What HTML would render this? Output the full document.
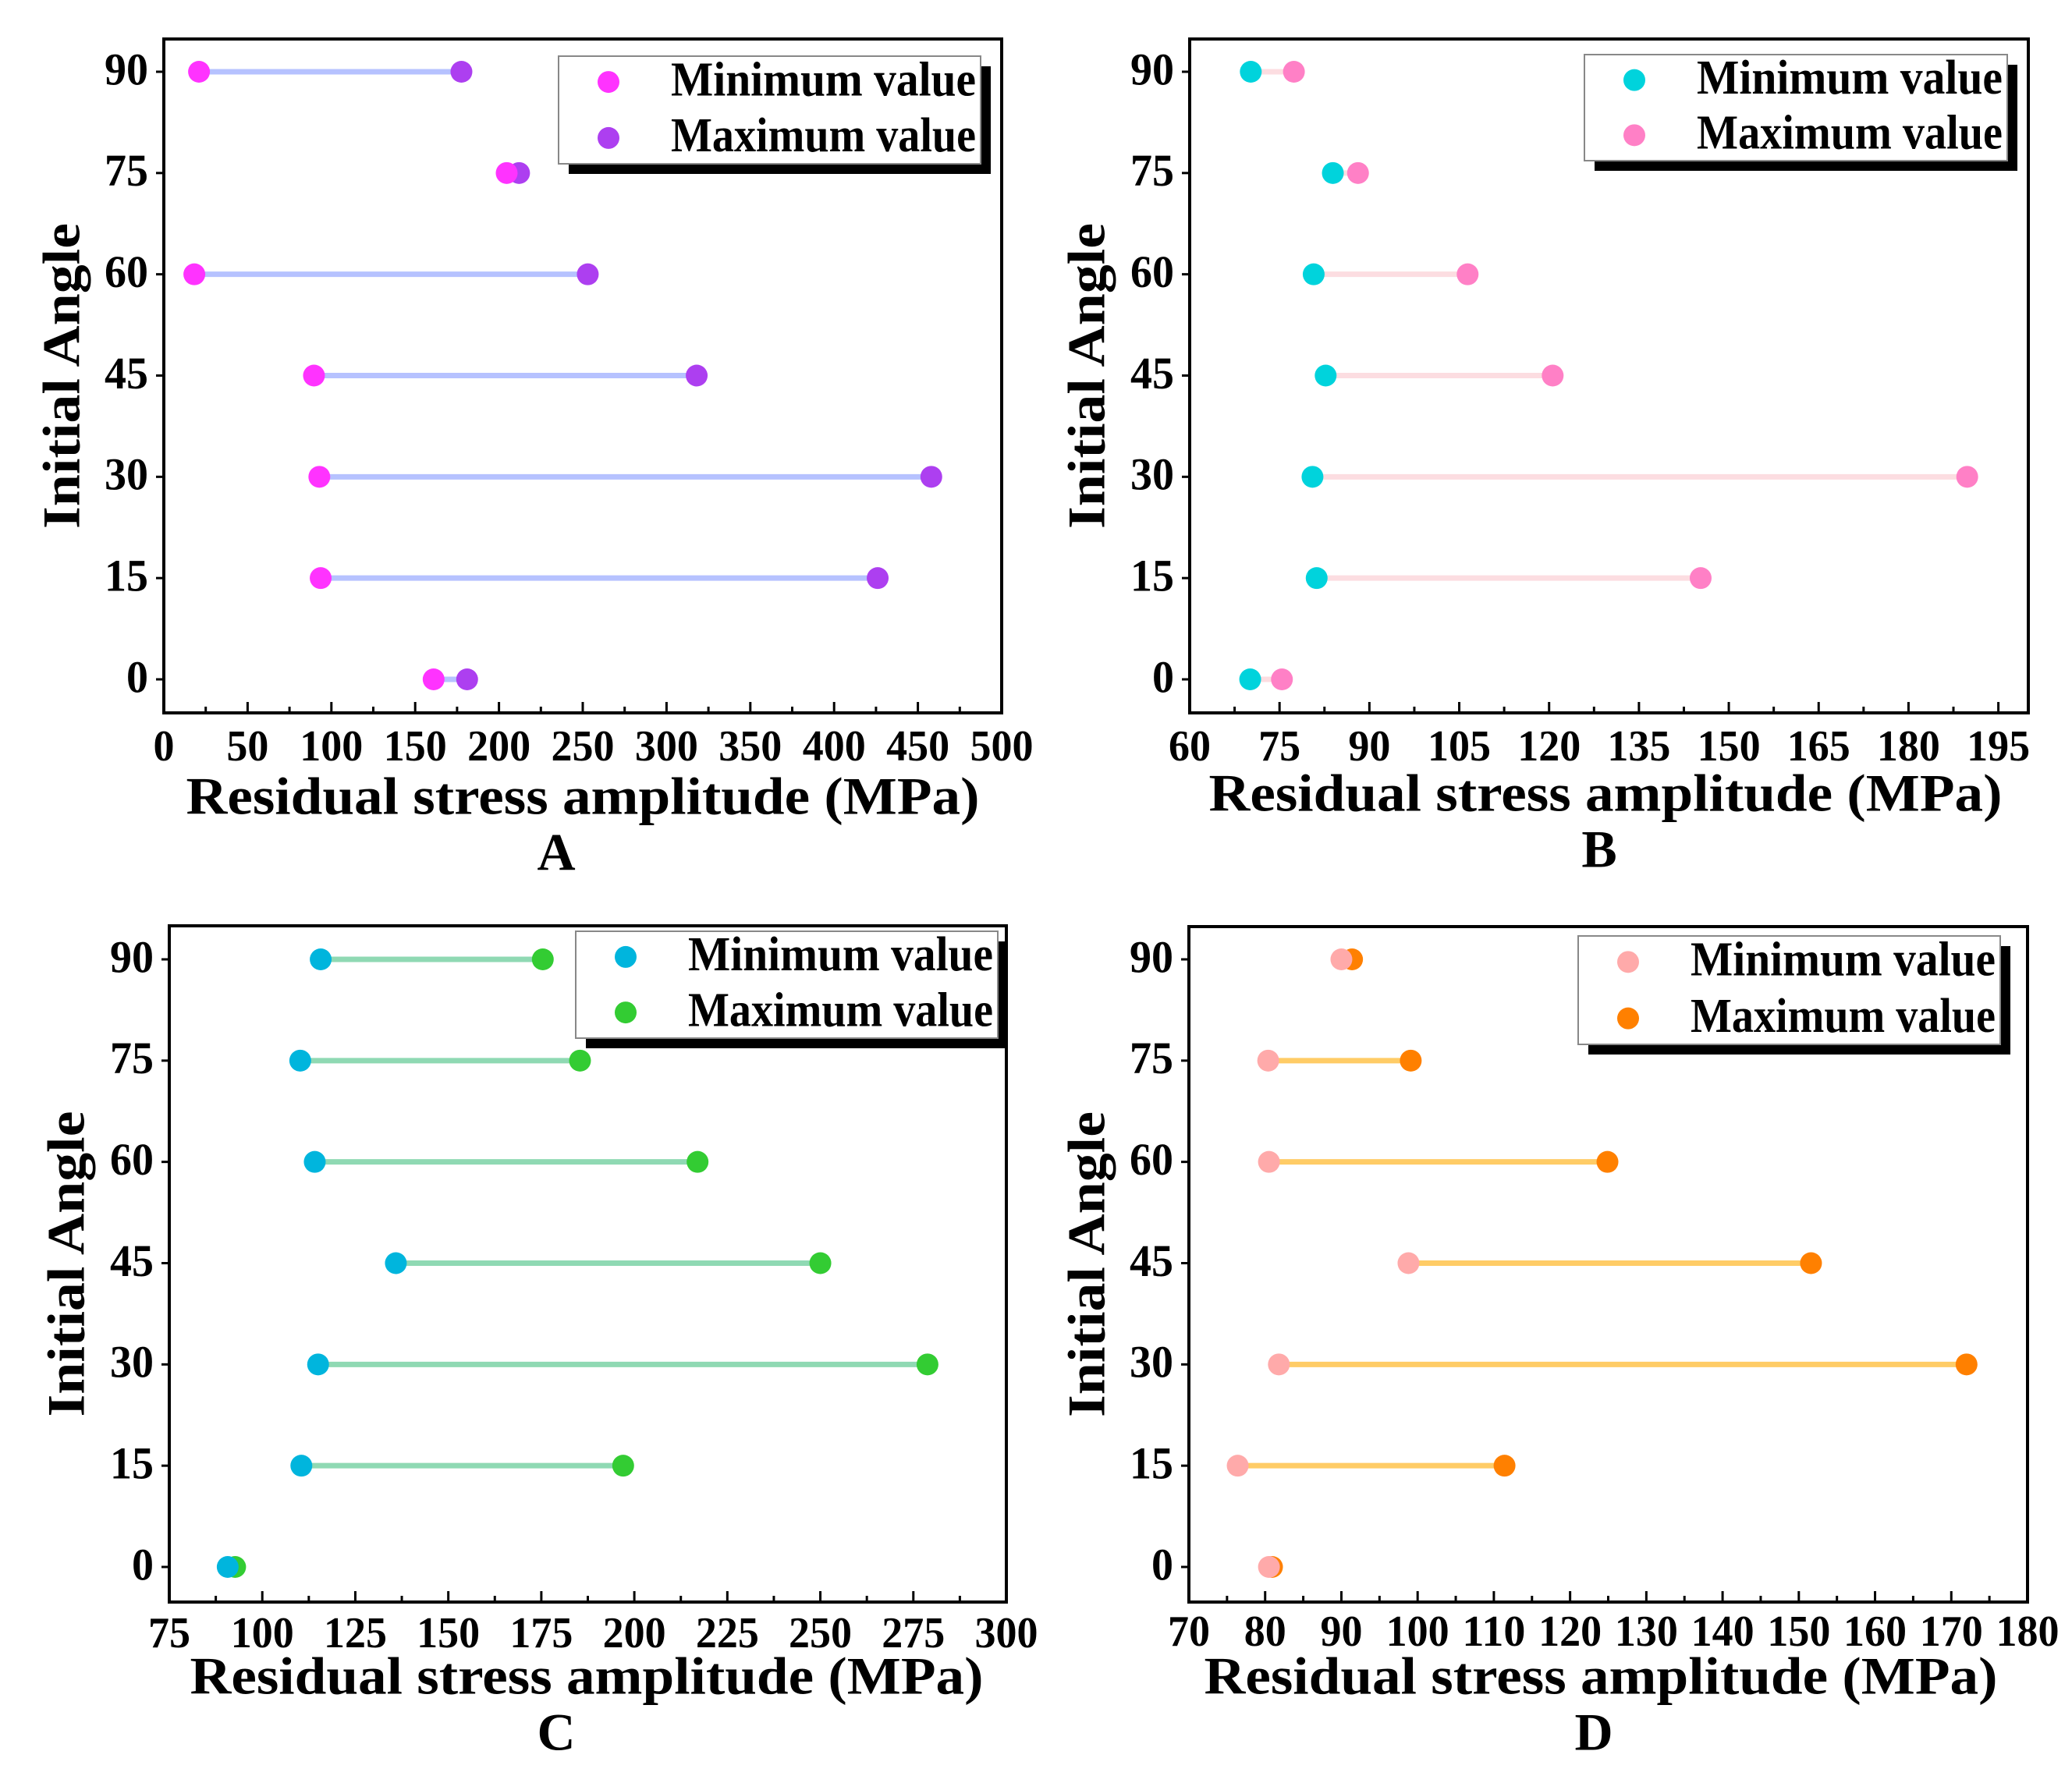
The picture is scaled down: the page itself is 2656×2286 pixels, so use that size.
<!DOCTYPE html>
<html><head><meta charset="utf-8">
<style>
html,body{margin:0;padding:0;background:#fff;}
svg{display:block;font-family:"Liberation Serif","Times New Roman",serif;font-weight:700;}
</style></head>
<body>
<svg id="chart" width="2656" height="2286" viewBox="0 0 2656 2286" xmlns="http://www.w3.org/2000/svg"></svg>
<script>
const angles = [90, 75, 60, 45, 30, 15, 0];
const angleTicks = ["90","75","60","45","30","15","0"];
const minA = [21, 204.6, 18.2, 89.6, 92.8, 93.6, 161];
const maxA = [177.6, 212, 253, 318, 458, 426, 181];
const ticksA = [0,50,100,150,200,250,300,350,400,450,500];
const minB = [70.2, 83.9, 80.7, 82.7, 80.5, 81.2, 70.1];
const maxB = [77.4, 88.1, 106.4, 120.6, 189.8, 145.3, 75.4];
const ticksB = [60,75,90,105,120,135,150,165,180,195];
const minC = [115.7, 110.2, 114.1, 135.9, 115, 110.5, 90.7];
const maxC = [175.4, 185.4, 217, 250, 278.8, 197, 92.7];
const ticksC = [75,100,125,150,175,200,225,250,275,300];
const minD = [90.0, 80.4, 80.5, 98.8, 81.8, 76.4, 80.5];
const maxD = [91.4, 99.1, 124.9, 151.6, 172, 111.4, 80.9];
const ticksD = [70,80,90,100,110,120,130,140,150,160,170,180];

const NS = "http://www.w3.org/2000/svg";
const svg = document.getElementById('chart');
function mk(tag, attrs, parent){
  const e = document.createElementNS(NS, tag);
  for (const k in attrs) e.setAttribute(k, attrs[k]);
  (parent||svg).appendChild(e);
  return e;
}
const panels = [
 {id:'a', letter:'A', L:210, R:1284, T:50, B:914, xmin:0, xmax:500, y90:92, y0:871, ticks:ticksA, minor:25, mins:minA, maxs:maxA,
  cMin:'#ff33ff', cMax:'#ad3ff0', cLine:'#b6c2ff', yTitleX:86, tickY:962, titleX:747, titleY:1028, letterX:713, letterY:1100, leg:[716,72,1257,210]},
 {id:'b', letter:'B', L:1525, R:2600, T:50, B:914, xmin:60, xmax:200, y90:92, y0:871, ticks:ticksB, minor:7.5, mins:minB, maxs:maxB,
  cMin:'#00d3dc', cMax:'#ff80c6', cLine:'#fcdde1', yTitleX:1400, tickY:962, titleX:2058, titleY:1024, letterX:2050, letterY:1096, leg:[2031,70,2573,206]},
 {id:'c', letter:'C', L:217, R:1290, T:1187, B:2054, xmin:75, xmax:300, y90:1230, y0:2009, ticks:ticksC, minor:12.5, mins:minC, maxs:maxC,
  cMin:'#00b5dd', cMax:'#33cc33', cLine:'#8fd9b3', yTitleX:92, tickY:2099, titleX:752, titleY:2156, letterX:713, letterY:2228, leg:[738,1194,1279,1331]},
 {id:'d', letter:'D', L:1524, R:2599, T:1188, B:2054, xmin:70, xmax:180, y90:1230, y0:2009, ticks:ticksD, minor:5, mins:minD, maxs:maxD,
  cMin:'#ffaaaa', cMax:'#ff8000', cLine:'#ffcc66', yTitleX:1400, tickY:2097, titleX:2052, titleY:2156, letterX:2043, letterY:2228, leg:[2023,1200,2564,1339]}
];
panels.forEach(p=>{
  const g = mk('g', {});
  
  
  const xs = v => p.L + (v - p.xmin) / (p.xmax - p.xmin) * (p.R - p.L);
  const ys = a => p.y0 + (a / 90) * (p.y90 - p.y0);
  angles.forEach((a,i)=>{
    const ln = mk('line', {x1:xs(p.mins[i]), x2:xs(p.maxs[i]), y1:ys(a), y2:ys(a), stroke:p.cLine, 'stroke-width':7}, g);
    
    
  });
  angles.forEach((a,i)=>{
    const c2 = mk('circle', {cx:xs(p.maxs[i]), cy:ys(a), r:14, fill:p.cMax}, g);
    
    
    const c1 = mk('circle', {cx:xs(p.mins[i]), cy:ys(a), r:14, fill:p.cMin}, g);
    
    
  });
  const fr = mk('rect', {x:p.L, y:p.T, width:p.R-p.L, height:p.B-p.T, fill:'none', stroke:'#000', 'stroke-width':4}, g);
  
  
  for (let v = p.xmin; v <= p.xmax + 1e-6; v += p.minor){
    const major = p.ticks.some(t => Math.abs(t - v) < 1e-6);
    mk('line', {x1:xs(v), x2:xs(v), y1:p.B, y2:p.B - (major?14:8), stroke:'#000', 'stroke-width':3}, g);
  }
  p.ticks.forEach(t=>{
    const s = String(t);
    const tx = mk('text', {x:xs(t), y:p.tickY, 'text-anchor':'middle', 'dominant-baseline':'middle', 'font-size':56, textLength:s.length*27, lengthAdjust:'spacingAndGlyphs'}, g);
    tx.textContent = s;
    
    
  });
  angles.forEach((a,i)=>{
    mk('line', {x1:p.L-10, x2:p.L, y1:ys(a), y2:ys(a), stroke:'#000', 'stroke-width':3}, g);
    const s = angleTicks[i];
    const tx = mk('text', {x:p.L-20, y:ys(a)+3, 'text-anchor':'end', 'dominant-baseline':'middle', 'font-size':58, textLength:s.length*28, lengthAdjust:'spacingAndGlyphs'}, g);
    tx.textContent = s;
    
    
  });
  const xt = mk('text', {x:p.titleX, y:p.titleY, 'text-anchor':'middle', 'dominant-baseline':'middle', 'font-size':68, textLength:1017, lengthAdjust:'spacingAndGlyphs'}, g);
  xt.textContent = 'Residual stress amplitude (MPa)';
  
  
  const ymid = (p.T + p.B) / 2;
  const yt = mk('text', {x:p.yTitleX, y:ymid, 'text-anchor':'middle', 'dominant-baseline':'middle', 'font-size':68, transform:'rotate(-90 '+p.yTitleX+' '+ymid+')', textLength:392, lengthAdjust:'spacingAndGlyphs'}, g);
  yt.textContent = 'Initial Angle';
  
  
  const lt = mk('text', {x:p.letterX, y:p.letterY, 'text-anchor':'middle', 'dominant-baseline':'middle', 'font-size':68}, g);
  lt.textContent = p.letter;
  
  
  const [lx1, ly1, lx2, ly2] = p.leg;
  const lg = mk('g', {}, g);
  
  
  mk('rect', {x:lx1+13, y:ly1+13, width:lx2-lx1, height:ly2-ly1, fill:'#000'}, lg);
  mk('rect', {x:lx1, y:ly1, width:lx2-lx1, height:ly2-ly1, fill:'#fff', stroke:'#888', 'stroke-width':2}, lg);
  const rowH = (ly2 - ly1);
  [['Minimum value', p.cMin, 0.24], ['Maximum value', p.cMax, 0.76]].forEach(([label, col, f])=>{
    const yy = ly1 + rowH * f;
    const m = mk('circle', {cx:lx1 + 64, cy:yy, r:14, fill:col}, lg);
    
    
    const t = mk('text', {x:lx1 + 144, y:yy + 3, 'dominant-baseline':'middle', 'font-size':62, textLength:(lx2-lx1)-150, lengthAdjust:'spacingAndGlyphs'}, lg);
    t.textContent = label;
    
    
  });
});
</script>
</body></html>
